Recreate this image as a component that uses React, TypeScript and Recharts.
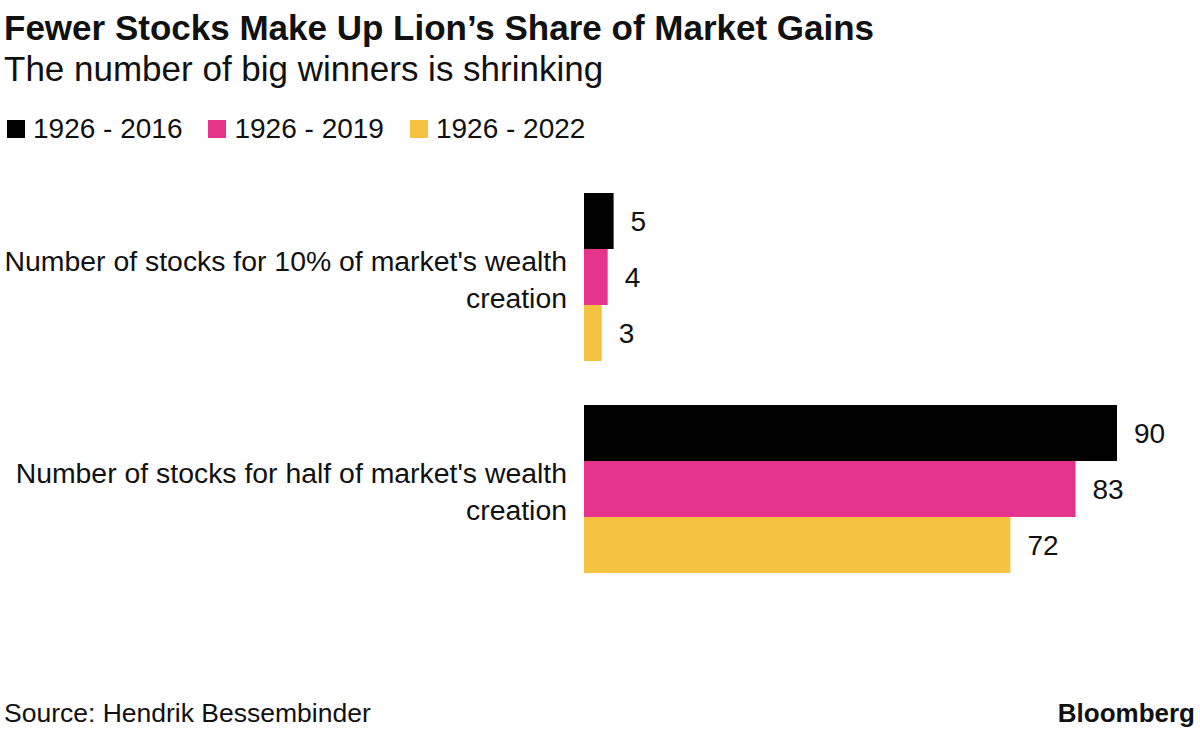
import React from 'react'
import { Bar, BarChart, LabelList, Legend, XAxis, YAxis } from 'recharts'

const categories = [
  "Number of stocks for 10% of market's wealth creation",
  "Number of stocks for half of market's wealth creation",
]
const series1926to2016 = [5, 90]
const series1926to2019 = [4, 83]
const series1926to2022 = [3, 72]

const seriesNames = ['1926 - 2016', '1926 - 2019', '1926 - 2022']
const seriesColors = ['#000000', '#e6338b', '#f3c341']

const data = categories.map((name, i) => ({
  name,
  s2016: series1926to2016[i],
  s2019: series1926to2019[i],
  s2022: series1926to2022[i],
}))

const font = '"Liberation Sans", Arial, sans-serif'

function CategoryTick(props: any) {
  const { x, y, payload } = props
  const text: string = payload.value
  const cut = text.lastIndexOf(' ')
  const first = text.slice(0, cut)
  const second = text.slice(cut + 1)
  return (
    <g>
      <text x={x - 9} y={y - 6} textAnchor="end" fontSize={28.4} fill="#111" fontFamily={font}>
        {first}
      </text>
      <text x={x - 9} y={y + 31} textAnchor="end" fontSize={28.4} fill="#111" fontFamily={font}>
        {second}
      </text>
    </g>
  )
}

function LegendContent() {
  return (
    <div style={{ display: 'flex', fontFamily: font, fontSize: 28, lineHeight: '32px', color: '#111' }}>
      {seriesNames.map((n, i) => (
        <div key={n} style={{ display: 'flex', alignItems: 'center', marginRight: 26 }}>
          <span
            style={{
              width: 18,
              height: 18,
              background: seriesColors[i],
              display: 'inline-block',
              marginRight: 8,
            }}
          />
          {n}
        </div>
      ))}
    </div>
  )
}

export default function App() {
  return (
    <div
      style={{
        position: 'absolute',
        left: 0,
        top: 0,
        width: 1200,
        height: 749,
        background: '#fff',
        fontFamily: font,
        color: '#111',
      }}
    >
      <div style={{ position: 'absolute', left: 4, top: 8, fontSize: 35, fontWeight: 700, whiteSpace: 'nowrap' }}>
        Fewer Stocks Make Up Lion’s Share of Market Gains
      </div>
      <div style={{ position: 'absolute', left: 4, top: 49, fontSize: 35, whiteSpace: 'nowrap' }}>
        The number of big winners is shrinking
      </div>
      <BarChart
        width={1200}
        height={749}
        data={data}
        layout="vertical"
        margin={{ top: 171, right: 83, bottom: 122, left: 0 }}
        barGap={0}
        barCategoryGap={22}
      >
        <XAxis type="number" domain={[0, 90]} hide />
        <YAxis
          type="category"
          dataKey="name"
          width={584}
          axisLine={false}
          tickLine={false}
          tick={<CategoryTick />}
        />
        <Legend
          content={<LegendContent />}
          wrapperStyle={{ position: 'absolute', left: 7, top: 113, width: 700 }}
        />
        <Bar dataKey="s2016" name={seriesNames[0]} fill={seriesColors[0]} isAnimationActive={false}>
          <LabelList dataKey="s2016" position="right" offset={17} fontSize={28} fill="#111" fontFamily={font} />
        </Bar>
        <Bar dataKey="s2019" name={seriesNames[1]} fill={seriesColors[1]} isAnimationActive={false}>
          <LabelList dataKey="s2019" position="right" offset={17} fontSize={28} fill="#111" fontFamily={font} />
        </Bar>
        <Bar dataKey="s2022" name={seriesNames[2]} fill={seriesColors[2]} isAnimationActive={false}>
          <LabelList dataKey="s2022" position="right" offset={17} fontSize={28} fill="#111" fontFamily={font} />
        </Bar>
      </BarChart>
      <div style={{ position: 'absolute', left: 4, top: 698, fontSize: 26.5, whiteSpace: 'nowrap' }}>
        Source: Hendrik Bessembinder
      </div>
      <div style={{ position: 'absolute', right: 5, top: 698, fontSize: 26, fontWeight: 700 }}>Bloomberg</div>
    </div>
  )
}
